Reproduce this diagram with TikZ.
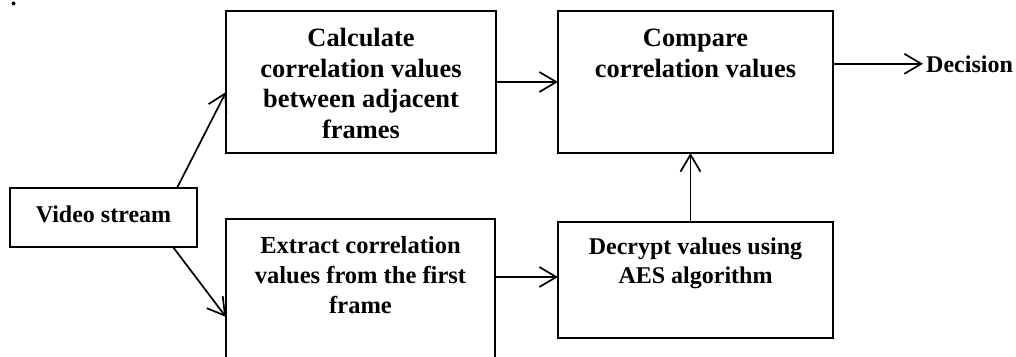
\documentclass[tikz,border=0pt]{standalone}
\usepackage{fontspec}
\setmainfont{Liberation Serif}
\usetikzlibrary{arrows.meta}
\begin{document}
\begin{tikzpicture}[x=1pt,y=-1pt,
  blk/.style={draw, line width=1.8pt, inner sep=0pt, outer sep=0pt},
  txt/.style={inner sep=0pt, align=center, font=\bfseries\fontsize{24.5}{30}\selectfont},
  bigtxt/.style={inner sep=0pt, align=center, font=\bfseries\fontsize{26.4}{30.5}\selectfont},
  arr/.style={line width=1.7pt, -{Straight Barb[length=17pt,width=20pt,line width=1.7pt]}}]
\clip (0,0) rectangle (1016,356);
\fill (13.5,3.5) circle (2pt);
% boxes
\node[blk, minimum width=270pt, minimum height=142pt] (calc) at (361,82) {};
\node[blk, minimum width=275pt, minimum height=142pt] (compare) at (695.5,82) {};
\node[blk, minimum width=275pt, minimum height=116pt] (decrypt) at (695.5,280) {};
\node[blk, minimum width=269pt, minimum height=161pt] (extract) at (360.5,299.5) {};
\node[blk, minimum width=187pt, minimum height=59pt, font=\bfseries\fontsize{24}{28}\selectfont, text depth=7pt] (video) at (103.5,217.5) {Video stream};
% texts
\node[bigtxt, anchor=north] (calctxt) at (361,28) {Calculate\\correlation values\\between adjacent\\frames};
\node[bigtxt, anchor=north] (comptxt) at (695.5,29) {Compare\\correlation values};
\node[txt, anchor=north, font=\bfseries\fontsize{24}{29}\selectfont] (decrtxt) at (695.5,237.5) {Decrypt values using\\AES algorithm};
\node[txt, anchor=north] (extrtxt) at (360.5,236.5) {Extract correlation\\values from the first\\frame};
\node[inner sep=0pt, anchor=base west, font=\bfseries\fontsize{24}{28}\selectfont] (decision) at (926,72) {Decision};
% connectors
\coordinate (dein) at ([yshift=3pt]decrypt.west);
\draw[arr] ([xshift=-20pt]video.north east) -- ([yshift=-10pt]calc.west);
\draw[arr] ([xshift=-24pt]video.south east) -- ([yshift=-17.5pt]extract.west);
\draw[arr] (calc.east) -- (compare.west);
\draw[arr] (extract.east |- dein) -- (dein);
\draw[arr] ([xshift=-5pt]decrypt.north) -- ([xshift=-5pt]compare.south);
\draw[arr] (compare.east |- decision.west) -- ([xshift=-3pt]decision.west);
\end{tikzpicture}
\end{document}
